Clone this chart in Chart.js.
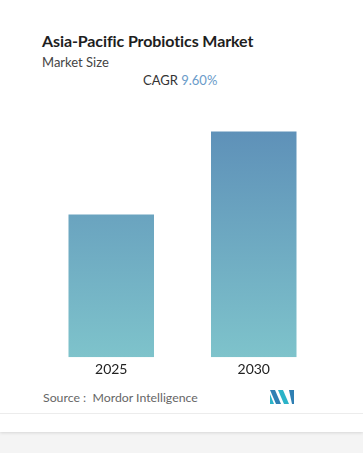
<!DOCTYPE html>
<html>
<head>
<meta charset="utf-8">
<script src="https://cdn.jsdelivr.net/npm/chart.js@4"></script>
<style>
  html, body { margin: 0; padding: 0; }
  body { width: 363px; height: 453px; background: #f4f4f4; font-family: Lato, "Open Sans", sans-serif; position: relative; overflow: hidden; }
  #card { position: absolute; left: 0; top: 0; width: 363px; height: 432px; background: #fff; box-shadow: 0 1px 3px rgba(0,0,0,0.12); }
  #title { position: absolute; left: 42px; top: 31px; font-size: 16px; font-weight: bold; color: #1e1e1e; letter-spacing: -0.1px; }
  #sub { position: absolute; left: 42px; top: 54px; font-size: 13px; color: #444; }
  #cagr { position: absolute; left: 143px; top: 72px; font-size: 13px; color: #333; }
  #cagr span { color: #6a9bc9; }
  #wrap { position: absolute; left: 0; top: 100px; width: 363px; height: 285px; }
  #src { position: absolute; left: 43px; top: 390px; font-size: 12.3px; color: #666; }
  #sep { position: absolute; left: 0; top: 413px; width: 363px; height: 1px; background: #ececec; }
  #logo { position: absolute; left: 270px; top: 390px; }
</style>
</head>
<body>
<div id="card"></div>
<div id="sep"></div>
<div id="title">Asia-Pacific Probiotics Market</div>
<div id="sub">Market Size</div>
<div id="cagr">CAGR <span>9.60%</span></div>
<div id="wrap"><canvas id="c" width="363" height="285"></canvas></div>
<div id="src">Source :&nbsp; Mordor Intelligence</div>
<svg id="logo" width="24" height="14" viewBox="0 0 24 14">
  <polygon points="0,0 5,0 11,14 6,14" fill="#2f7fb3"/>
  <polygon points="0,4 4,14 0,14" fill="#2bb3c8"/>
  <polygon points="8,0 13,0 19,14 14,14" fill="#2bb3c8"/>
  <polygon points="19,0 24,0 24,14 22,14" fill="#2f7fb3"/>
</svg>
<script>
const categories = ["2025", "2030"];
const marketSize = [4.12, 6.51];
const yMax = 7.42;

const ctx = document.getElementById('c').getContext('2d');
new Chart(ctx, {
  type: 'bar',
  data: {
    labels: categories,
    datasets: [{
      data: marketSize,
      backgroundColor: function(context) {
        const chart = context.chart;
        const area = chart.chartArea;
        if (!area) return '#6fa6c0';
        const g = chart.ctx.createLinearGradient(0, area.top, 0, area.bottom);
        g.addColorStop(0, '#5a8ab6');
        g.addColorStop(1, '#7ec3cb');
        return g;
      },
      borderWidth: 0,
      categoryPercentage: 1,
      barPercentage: 0.6
    }]
  },
  options: {
    responsive: false,
    animation: false,
    layout: { padding: { left: 40, right: 38, top: 0, bottom: 3 } },
    plugins: { legend: { display: false }, tooltip: { enabled: false } },
    scales: {
      x: {
        grid: { display: false, drawTicks: false },
        border: { display: false },
        ticks: { color: '#222', font: { family: 'Lato', size: 14 }, padding: 4 }
      },
      y: {
        display: false,
        min: 0,
        max: yMax
      }
    }
  }
});
</script>
</body>
</html>
